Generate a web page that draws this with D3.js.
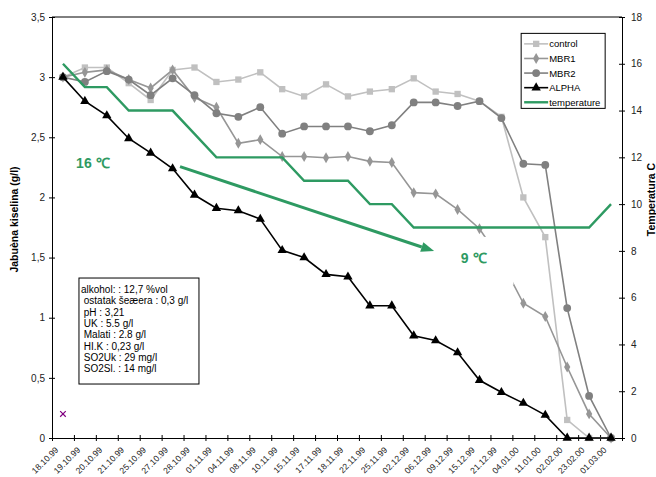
<!DOCTYPE html>
<html>
<head>
<meta charset="utf-8">
<script src="https://cdn.jsdelivr.net/npm/d3@7"></script>
<style>
body { margin: 0; background: #fff; }
text { font-family: "Liberation Sans", Arial, sans-serif; }
</style>
</head>
<body>
<div id="chart"></div>
<script>
const dates = ["18.10.99", "19.10.99", "20.10.99", "21.10.99", "25.10.99", "27.10.99", "28.10.99",
  "01.11.99", "04.11.99", "08.11.99", "10.11.99", "15.11.99", "17.11.99", "18.11.99", "22.11.99",
  "25.11.99", "02.12.99", "06.12.99", "09.12.99", "15.12.99", "21.12.99", "04.01.00", "11.01.00",
  "02.02.00", "23.02.00", "01.03.00"]

const control = [3.0, 3.08, 3.08, 2.95, 2.81, 3.06, 3.08, 2.96, 2.98, 3.04, 2.90, 2.84, 2.94, 2.84,
  2.88, 2.90, 2.99, 2.88, 2.86, 2.80, 2.67, 2.00, 1.67, 0.15, 0, 0]
const mbr1 = [3.0, 3.04, 3.06, 2.98, 2.91, 3.06, 2.83, 2.75, 2.45, 2.48, 2.34, 2.34, 2.33, 2.34,
  2.30, 2.29, 2.04, 2.03, 1.90, 1.74, 1.47, 1.12, 1.01, 0.59, 0.20, 0]
const mbr2 = [3.0, 2.96, 3.05, 2.98, 2.85, 2.99, 2.85, 2.70, 2.67, 2.75, 2.53, 2.59, 2.59, 2.59,
  2.55, 2.60, 2.79, 2.79, 2.76, 2.80, 2.66, 2.28, 2.27, 1.08, 0.35, 0]
const alpha = [3.0, 2.80, 2.68, 2.49, 2.37, 2.24, 2.02, 1.91, 1.89, 1.82, 1.56, 1.50, 1.36, 1.34,
  1.10, 1.10, 0.85, 0.81, 0.71, 0.48, 0.38, 0.29, 0.19, 0, 0, 0]
const temperature = [16, 15, 15, 14, 14, 14, 13, 12, 12, 12, 12, 11, 11, 11, 10, 10, 9, 9, 9, 9,
  9, 9, 9, 9, 9, 10]
const stray = [0.2]

const leftTicks = [0, 0.5, 1, 1.5, 2, 2.5, 3, 3.5]
const rightTicks = [0, 2, 4, 6, 8, 10, 12, 14, 16, 18]

const notes = ["alkohol: : 12,7 %vol", " ostatak šeæera : 0,3 g/l", " pH : 3,21", " UK : 5.5 g/l",
  " Malati : 2.8 g/l", " HI.K : 0,23 g/l", " SO2Uk : 29 mg/l", " SO2Sl. : 14 mg/l"]

const MARGIN = { LEFT: 52, RIGHT: 34, TOP: 17, BOTTOM: 39 }
const WIDTH = 656 - MARGIN.LEFT - MARGIN.RIGHT
const HEIGHT = 477 - MARGIN.TOP - MARGIN.BOTTOM

const svg = d3.select("#chart").append("svg")
  .attr("width", 656)
  .attr("height", 477);

const g = svg.append("g")
  .attr("transform", `translate(${MARGIN.LEFT}, ${MARGIN.TOP})`);

const x = d3.scaleBand().domain(dates).range([0, WIDTH]);
const xi = d3.scaleLinear().domain([0, dates.length]).range([0, WIDTH]);
const xc = i => x(dates[i]) + x.bandwidth() / 2;
const y = d3.scaleLinear().domain([0, 3.5]).range([HEIGHT, 0]);
const yT = d3.scaleLinear().domain([0, 18]).range([HEIGHT, 0]);

// axes
const yAxis = g.append("g")
  .call(d3.axisLeft(y).tickValues(leftTicks).tickSize(3).tickSizeOuter(0).tickPadding(4)
    .tickFormat(d => String(d).replace(".", ",")));
yAxis.selectAll(".tick line").attr("x1", 3).attr("x2", -3);

const yAxisR = g.append("g")
  .attr("transform", `translate(${WIDTH}, 0)`)
  .call(d3.axisRight(yT).tickValues(rightTicks).tickSize(3).tickSizeOuter(0).tickPadding(6));
yAxisR.selectAll(".tick line").attr("x1", -3).attr("x2", 3);

const xAxis = g.append("g")
  .attr("transform", `translate(0, ${HEIGHT})`)
  .call(d3.axisBottom(xi).tickValues(d3.range(0, dates.length + 1)).tickSize(3).tickSizeOuter(0).tickFormat(""));
xAxis.selectAll(".tick line").attr("y1", -3).attr("y2", 3);

svg.selectAll(".tick text").attr("font-size", "10px").attr("fill", "#222")
  .attr("font-family", "Liberation Sans, Arial, sans-serif");

g.append("line")
  .attr("x1", 0).attr("x2", WIDTH).attr("y1", 0).attr("y2", 0)
  .attr("stroke", "#000");

g.selectAll(".xlabel")
  .data(dates)
  .enter().append("text")
  .attr("class", "xlabel")
  .attr("transform", (d, i) => `translate(${xc(i) - 4}, ${HEIGHT + 12.5}) rotate(-45)`)
  .attr("text-anchor", "end")
  .attr("font-size", "8.6px")
  .attr("fill", "#222")
  .text(d => d);

// axis titles
g.append("text")
  .attr("x", -HEIGHT / 2 + 8)
  .attr("y", -34)
  .attr("transform", "rotate(-90)")
  .attr("text-anchor", "middle")
  .attr("font-size", "10.5px")
  .attr("font-weight", "bold")
  .text("Jabuèna kiselina (g/l)");

g.append("text")
  .attr("x", -(HEIGHT / 2 - 28))
  .attr("y", WIDTH + 33)
  .attr("transform", "rotate(-90)")
  .attr("text-anchor", "middle")
  .attr("font-size", "10.5px")
  .attr("font-weight", "bold")
  .text("Temperatura C");

// series
const series = [
  { name: "control", values: control, color: "#c0c0c0", symbol: d3.symbolSquare, size: 40 },
  { name: "MBR1", values: mbr1, color: "#969696", symbol: d3.symbolDiamond, size: 34 },
  { name: "MBR2", values: mbr2, color: "#808080", symbol: d3.symbolCircle, size: 48 },
  { name: "ALPHA", values: alpha, color: "#000000", symbol: d3.symbolTriangle, size: 38 }
];

const line = d3.line()
  .x((d, i) => xc(i))
  .y(d => y(d));

series.forEach(s => {
  g.append("path")
    .datum(s.values)
    .attr("fill", "none")
    .attr("stroke", s.color)
    .attr("stroke-width", 1.6)
    .attr("d", line);

  g.selectAll(".m-" + s.name)
    .data(s.values)
    .enter().append("path")
    .attr("class", "m-" + s.name)
    .attr("transform", (d, i) => `translate(${xc(i)}, ${y(d)})`)
    .attr("d", d3.symbol().type(s.symbol).size(s.size))
    .attr("fill", s.color);
});

g.selectAll(".stray")
  .data(stray)
  .enter().append("path")
  .attr("transform", (d, i) => `translate(${xc(i)}, ${y(d)})`)
  .attr("d", d3.symbol().type(d3.symbolX).size(22))
  .attr("stroke", "#800080")
  .attr("stroke-width", 1.2);

const GREEN = "#2e9a62";
const tempLine = d3.line()
  .x((d, i) => xc(i))
  .y(d => yT(d));

g.append("path")
  .datum(temperature)
  .attr("fill", "none")
  .attr("stroke", GREEN)
  .attr("stroke-width", 2.4)
  .attr("d", tempLine);

// arrow
const ax1 = xi(5.84), ay1 = yT(11.6), ax2 = xi(17.43), ay2 = yT(7.99);
const ang = Math.atan2(ay2 - ay1, ax2 - ax1);
const headLen = 13, headW = 5;
const bx = ax2 - headLen * Math.cos(ang), by = ay2 - headLen * Math.sin(ang);
g.append("line")
  .attr("x1", ax1).attr("y1", ay1).attr("x2", bx).attr("y2", by)
  .attr("stroke", GREEN).attr("stroke-width", 3);
g.append("polygon")
  .attr("points", [
    [ax2, ay2],
    [bx + headW * Math.sin(ang), by - headW * Math.cos(ang)],
    [bx - headW * Math.sin(ang), by + headW * Math.cos(ang)]
  ].map(p => p.join(",")).join(" "))
  .attr("fill", GREEN);

// annotations
g.append("text")
  .attr("x", xi(1.1))
  .attr("y", yT(11.55))
  .attr("font-size", "14px")
  .attr("font-weight", "bold")
  .attr("fill", GREEN)
  .text("16 ℃");

g.append("rect")
  .attr("x", xi(17.52)).attr("y", yT(8.6))
  .attr("width", xi(21.05) - xi(17.52)).attr("height", yT(6.55) - yT(8.6))
  .attr("fill", "#fff");

g.append("text")
  .attr("x", xi(18.65))
  .attr("y", yT(7.5))
  .attr("font-size", "14px")
  .attr("font-weight", "bold")
  .attr("fill", GREEN)
  .text("9 ℃");

// info box
const box = g.append("g").attr("transform", `translate(${xi(1.23)}, ${y(1.33)})`);
box.append("rect")
  .attr("width", 120).attr("height", 106)
  .attr("fill", "#fff").attr("stroke", "#000");
box.selectAll("text")
  .data(notes)
  .enter().append("text")
  .attr("x", 2)
  .attr("y", (d, i) => 15 + i * 11.3)
  .attr("font-size", "10px")
  .attr("xml:space", "preserve")
  .style("white-space", "pre")
  .text(d => d);

// legend
const legend = g.append("g").attr("transform", `translate(${xi(21.4)}, ${yT(17.3)})`);
legend.append("rect")
  .attr("width", 84).attr("height", 75)
  .attr("fill", "#fff").attr("stroke", "#000");

const legendItems = series.concat([{ name: "temperature", color: GREEN }]);
legendItems.forEach((s, i) => {
  const ly = 10.5 + i * 14.6;
  legend.append("line")
    .attr("x1", 3).attr("x2", 27).attr("y1", ly).attr("y2", ly)
    .attr("stroke", s.color)
    .attr("stroke-width", s.symbol ? 1.6 : 2.4);
  if (s.symbol) {
    legend.append("path")
      .attr("transform", `translate(15, ${ly})`)
      .attr("d", d3.symbol().type(s.symbol).size(s.size))
      .attr("fill", s.color);
  }
  legend.append("text")
    .attr("x", 28)
    .attr("y", ly + 3.5)
    .attr("font-size", "9.5px")
    .text(s.name);
});
</script>
</body>
</html>
